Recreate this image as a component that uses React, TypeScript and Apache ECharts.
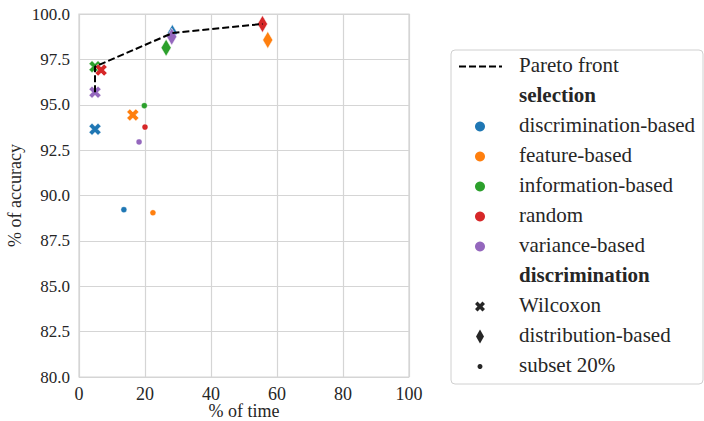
import React, { useEffect, useRef } from "react";
import * as echarts from "echarts";

const selections = ["discrimination-based", "feature-based", "information-based", "random", "variance-based"];
const selectionColors = ["#1f77b4", "#ff7f0e", "#2ca02c", "#d62728", "#9467bd"];
const discriminations = ["Wilcoxon", "distribution-based", "subset 20%"];

const wilcoxonTime = [4.85, 16.3, 4.85, 6.7, 4.85];
const wilcoxonAcc = [93.65, 94.44, 97.1, 96.91, 95.69];
const distributionTime = [28.3, 57.2, 26.4, 55.6, 28.1];
const distributionAcc = [98.95, 98.57, 98.14, 99.45, 98.75];
const subsetTime = [13.6, 22.4, 19.8, 20.0, 18.2];
const subsetAcc = [89.22, 89.05, 94.95, 93.77, 92.95];

const paretoTime = [4.85, 4.85, 28.3, 55.6];
const paretoAcc = [95.69, 97.1, 98.95, 99.45];

const xAxisTitle = "% of time";
const yAxisTitle = "% of accuracy";

const X_PATH = "path://M0,2.5L2.5,0L5,2.5L7.5,0L10,2.5L7.5,5L10,7.5L7.5,10L5,7.5L2.5,10L0,7.5L2.5,5Z";
const FONT = "Liberation Serif";
const TEXT = "#262626";
const GRID = "#d5d5d5";

function pts(xs: number[], ys: number[]) {
  return xs.map((x, i) => [x, ys[i]]);
}

export default function App() {
  const ref = useRef<HTMLDivElement>(null);
  useEffect(() => {
    if (!ref.current) return;
    const chart = echarts.init(ref.current, undefined, { renderer: "svg" });
    const colorFn = (p: any) => selectionColors[p.dataIndex];

    const legendX = 451;
    const iconX = 480;
    const textX = 519;
    const rowY = (i: number) => 66.5 + i * 30;
    const legendRows: { label: string; bold?: boolean }[] = [
      { label: "Pareto front" },
      { label: "selection", bold: true },
      ...selections.map((s) => ({ label: s })),
      { label: "discrimination", bold: true },
      ...discriminations.map((d) => ({ label: d })),
    ];
    const graphics: any[] = [
      {
        type: "rect",
        shape: { x: legendX, y: 50, width: 252, height: 334, r: 4 },
        style: { fill: "#fff", stroke: "#d0d0d0", lineWidth: 1 },
        z: 10,
      },
      {
        type: "line",
        shape: { x1: 459, y1: rowY(0), x2: 502, y2: rowY(0) },
        style: { stroke: "#000", lineWidth: 2, lineDash: [7, 3] },
        z: 11,
      },
      {
        type: "text",
        x: 244,
        y: 411,
        style: { text: xAxisTitle, fontFamily: FONT, fontSize: 18, fill: TEXT, align: "center", verticalAlign: "middle" },
        z: 11,
      },
    ];
    legendRows.forEach((r, i) => {
      const st: any = { text: r.label, fontFamily: FONT, fontSize: 21, fill: TEXT };
      if (r.bold) st.fontWeight = "bold";
      graphics.push({ type: "text", x: textX, y: rowY(i) - 12.5, style: st, z: 11 });
    });
    selections.forEach((s, i) => {
      graphics.push({
        type: "circle",
        shape: { cx: iconX, cy: rowY(2 + i), r: 5 },
        style: { fill: selectionColors[i] },
        z: 11,
      });
    });
    const wy = rowY(8);
    const xp = [[0,2.5],[2.5,0],[5,2.5],[7.5,0],[10,2.5],[7.5,5],[10,7.5],[7.5,10],[5,7.5],[2.5,10],[0,7.5],[2.5,5]].map(([a,b]) => [iconX - 5 + a, wy - 5 + b]);
    graphics.push({ type: "polygon", shape: { points: xp }, style: { fill: "#262626" }, z: 11 });
    const dy = rowY(9);
    graphics.push({
      type: "polygon",
      shape: { points: [[iconX, dy - 7], [iconX + 4, dy], [iconX, dy + 7], [iconX - 4, dy]] },
      style: { fill: "#262626" },
      z: 11,
    });
    graphics.push({ type: "circle", shape: { cx: iconX, cy: rowY(10), r: 2.5 }, style: { fill: "#262626" }, z: 11 });

    chart.setOption({
      animation: false,
      backgroundColor: "#fff",
      textStyle: { fontFamily: FONT },
      grid: { left: 79, right: 295, top: 14, bottom: 44, show: true, borderColor: GRID, borderWidth: 1.2, outerBoundsMode: "none", containLabel: false },
      xAxis: {
        type: "value",
        min: 0,
        max: 100,
        interval: 20,
        axisLine: { show: false },
        axisTick: { show: false },
        axisLabel: { fontSize: 18, color: TEXT, fontFamily: FONT, margin: 8 },
        splitLine: { show: true, lineStyle: { color: GRID, width: 1.2 } },
      },
      yAxis: {
        type: "value",
        min: 80,
        max: 100,
        interval: 2.5,
        name: yAxisTitle,
        nameLocation: "middle",
        nameGap: 55,
        nameTextStyle: { fontSize: 18, color: TEXT, fontFamily: FONT },
        axisLine: { show: false },
        axisTick: { show: false },
        axisLabel: { fontSize: 17, color: TEXT, fontFamily: FONT, margin: 9, formatter: (v: number) => v.toFixed(1) },
        splitLine: { show: true, lineStyle: { color: GRID, width: 1.2 } },
      },
      series: [
        {
          type: "scatter",
          name: discriminations[2],
          data: pts(subsetTime, subsetAcc),
          symbol: "circle",
          symbolSize: 6,
          itemStyle: { color: colorFn, borderColor: "#fff", borderWidth: 0.4, opacity: 1 },
        },
        {
          type: "scatter",
          name: discriminations[0],
          data: pts(wilcoxonTime, wilcoxonAcc),
          symbol: X_PATH,
          symbolSize: 12,
          itemStyle: { color: colorFn, borderColor: "#fff", borderWidth: 0.5, opacity: 1 },
        },
        {
          type: "scatter",
          name: discriminations[1],
          data: pts(distributionTime, distributionAcc),
          symbol: "diamond",
          symbolSize: [10, 17],
          itemStyle: { color: colorFn, borderColor: "#fff", borderWidth: 0.5, opacity: 1 },
        },
        {
          type: "line",
          name: "Pareto front",
          data: pts(paretoTime, paretoAcc),
          symbol: "none",
          z: 5,
          lineStyle: { color: "#000", width: 2, type: [7, 3] },
        },
      ],
      graphic: graphics,
    });
    return () => chart.dispose();
  }, []);
  return <div ref={ref} style={{ position: "fixed", left: 0, top: 0, width: 704, height: 421 }} />;
}
